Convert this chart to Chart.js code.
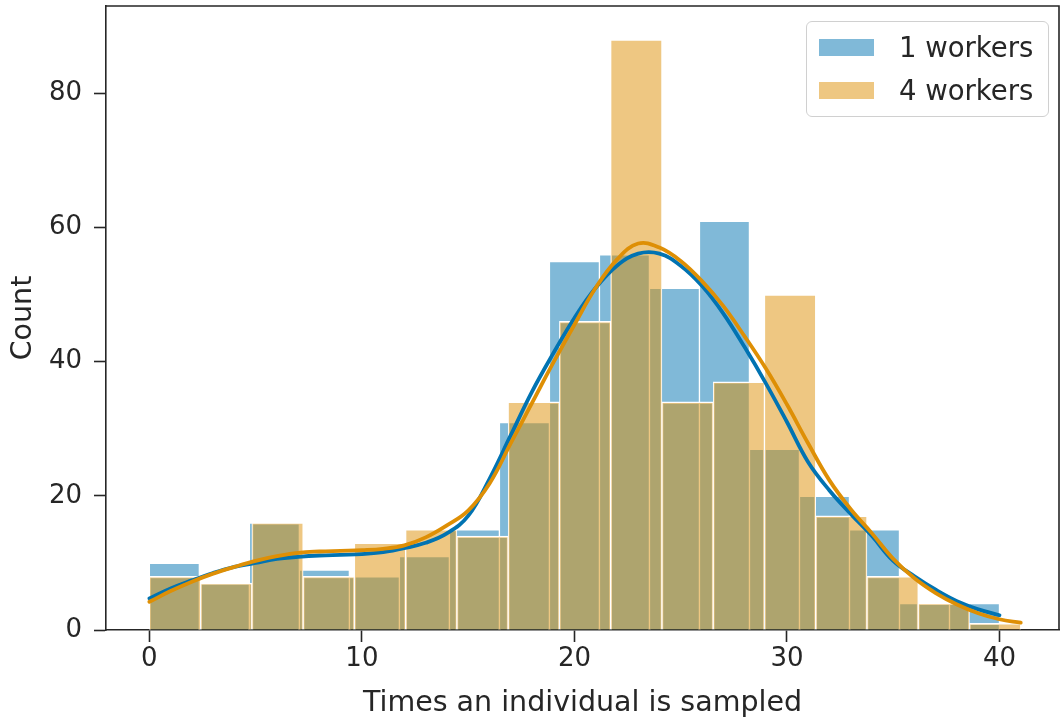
<!DOCTYPE html>
<html lang="en">
<head>
  <meta charset="UTF-8">
  <title>Times an individual is sampled</title>
  <script src="https://cdn.jsdelivr.net/npm/chart.js"></script>
  <style>
    html, body { margin: 0; padding: 0; background: #ffffff; overflow: hidden; }
    #wrap { position: relative; width: 1062px; height: 722px; }
    #legend {
      position: absolute; left: 806px; top: 21px; width: 243px; height: 96px;
      box-sizing: border-box; border: 1.5px solid #d0d0d0; border-radius: 6px;
      background: rgba(255, 255, 255, 0.8);
      font-family: "DejaVu Sans", sans-serif; font-size: 27.5px; color: #262626;
    }
    .row { position: absolute; left: 12px; height: 30px; display: flex; align-items: center; }
    .swatch { width: 55px; height: 17px; margin-right: 25px; }
  </style>
</head>
<body>
  <div id="wrap">
    <canvas id="hist"></canvas>
    <div id="legend"></div>
  </div>

  <script>
    // histogram bins: same count, different data range per run
    const binCount = 17;
    const oneWorkerRange = [0, 40];
    const fourWorkerRange = [0, 41];

    const oneWorkerCounts  = [10, 7, 16, 9, 8, 11, 15, 31, 55, 56, 51, 61, 27, 20, 15, 4, 4];
    const fourWorkerCounts = [8, 7, 16, 8, 13, 15, 14, 34, 46, 88, 34, 37, 50, 17, 8, 4, 1];

    // kde curves (scaled to counts)
    const oneKdeX = [0, 1, 2, 3, 4, 5, 6, 7, 8, 9, 10, 11, 12, 13, 14, 15, 16, 17, 18, 19, 20, 21, 22, 23, 24, 25, 26, 27, 28, 29, 30, 31, 32, 33, 34, 35, 36, 37, 38, 39, 40];
    const oneKdeY = [4.7, 6.2, 7.4, 8.5, 9.4, 10.0, 10.6, 10.9, 11.1, 11.2, 11.3, 11.6, 12.2, 13.0, 14.4, 17.0, 22.5, 29.0, 35.5, 41.2, 46.5, 51.0, 54.3, 56.1, 56.1, 54.3, 51.3, 47.2, 42.2, 36.8, 31.0, 25.0, 20.8, 17.3, 14.0, 10.3, 8.0, 6.0, 4.3, 3.1, 2.2];

    const fourKdeX = [0, 1, 2, 3, 4, 5, 6, 7, 8, 9, 10, 11, 12, 13, 14, 15, 16, 17, 18, 19, 20, 21, 22, 23, 24, 25, 26, 27, 28, 29, 30, 31, 32, 33, 34, 35, 36, 37, 38, 39, 40, 41];
    const fourKdeY = [4.2, 5.8, 7.2, 8.4, 9.4, 10.3, 11.0, 11.5, 11.7, 11.8, 11.9, 12.1, 12.6, 13.8, 15.6, 17.8, 21.8, 27.8, 33.8, 39.8, 45.5, 51.0, 55.2, 57.6, 57.0, 55.0, 52.0, 48.3, 43.8, 39.0, 33.6, 27.8, 22.3, 18.0, 14.4, 10.6, 7.7, 5.5, 3.8, 2.5, 1.6, 1.1];

    const seriesNames = ['1 workers', '4 workers'];
    const lineColors = ['#0173b2', '#de8f05'];
    const barColors = ['rgba(1, 115, 178, 0.5)', 'rgba(222, 143, 5, 0.5)'];

    const xTicks = [0, 10, 20, 30, 40];
    const yTicks = [0, 20, 40, 60, 80];

    const ink = '#262626';

    function binPoints(range, counts) {
      const w = (range[1] - range[0]) / binCount;
      return counts.map((c, i) => ({ x: range[0] + w * (i + 0.5), y: c }));
    }
    function curvePoints(xs, ys) {
      return xs.map((x, i) => ({ x: x, y: ys[i] }));
    }

    const xMin = -2.04, xMax = 42.8;
    const hiddenX = {
      type: 'linear', display: false, min: xMin, max: xMax, offset: false,
      grid: { offset: false },
      ticks: { stepSize: 10, includeBounds: false }
    };

    // top and right spines
    const frame = {
      id: 'frame',
      afterDraw(chart) {
        const { ctx, chartArea: a } = chart;
        ctx.save();
        ctx.strokeStyle = ink;
        ctx.lineWidth = 1.6;
        ctx.beginPath();
        ctx.moveTo(a.left, a.top);
        ctx.lineTo(a.right, a.top);
        ctx.lineTo(a.right, a.bottom);
        ctx.stroke();
        ctx.restore();
      }
    };

    const barBorder = { top: 1.5, left: 1, right: 1, bottom: 0 };

    const chart = new Chart(document.getElementById('hist'), {
      type: 'bar',
      data: {
        datasets: [
          {
            label: seriesNames[0], data: binPoints(oneWorkerRange, oneWorkerCounts), xAxisID: 'xOne',
            backgroundColor: barColors[0], borderColor: '#ffffff', borderWidth: barBorder, borderSkipped: false,
            barPercentage: 1, categoryPercentage: 1, grouped: false, order: 4
          },
          {
            label: seriesNames[1], data: binPoints(fourWorkerRange, fourWorkerCounts), xAxisID: 'xFour',
            backgroundColor: barColors[1], borderColor: '#ffffff', borderWidth: barBorder, borderSkipped: false,
            barPercentage: 1, categoryPercentage: 1, grouped: false, order: 3
          },
          {
            type: 'line', label: seriesNames[0] + ' kde', data: curvePoints(oneKdeX, oneKdeY), xAxisID: 'x',
            borderColor: lineColors[0], borderWidth: 3.8, pointRadius: 0, tension: 0.4,
            borderCapStyle: 'round', fill: false, order: 2
          },
          {
            type: 'line', label: seriesNames[1] + ' kde', data: curvePoints(fourKdeX, fourKdeY), xAxisID: 'x',
            borderColor: lineColors[1], borderWidth: 3.8, pointRadius: 0, tension: 0.4,
            borderCapStyle: 'round', fill: false, order: 1
          }
        ]
      },
      options: {
        responsive: true,
        maintainAspectRatio: false,
        animation: false,
        layout: { padding: { top: 6, right: 3, left: 0, bottom: 0 } },
        plugins: { legend: { display: false }, tooltip: { enabled: false } },
        scales: {
          x: {
            type: 'linear', min: xMin, max: xMax, offset: false,
            afterFit: s => { s.height = 92; s.paddingLeft = 0; s.paddingRight = 0; },
            afterBuildTicks: s => { s.ticks = xTicks.map(v => ({ value: v })); },
            border: { display: true, color: ink, width: 1.6 },
            grid: { display: true, drawOnChartArea: false, drawTicks: true, tickLength: 12, tickWidth: 1.6, tickColor: ink, offset: false },
            ticks: { color: ink, font: { family: 'DejaVu Sans', size: 26 }, padding: 2, maxRotation: 0 },
            title: { display: true, text: 'Times an individual is sampled', color: ink, font: { family: 'DejaVu Sans', size: 28.5 }, padding: { top: 0, bottom: 1 } }
          },
          xOne: hiddenX,
          xFour: Object.assign({}, hiddenX),
          y: {
            type: 'linear', min: 0, max: 93,
            afterFit: s => { s.width = 106; s.paddingTop = 0; s.paddingBottom = 0; },
            afterBuildTicks: s => { s.ticks = yTicks.map(v => ({ value: v })); },
            border: { display: true, color: ink, width: 1.6 },
            grid: { display: true, drawOnChartArea: false, drawTicks: true, tickLength: 12, tickWidth: 1.6, tickColor: ink },
            ticks: { color: ink, font: { family: 'DejaVu Sans', size: 26 }, padding: 12 },
            title: { display: true, text: 'Count', color: ink, font: { family: 'DejaVu Sans', size: 28.5 }, padding: { top: 6, bottom: 0 } }
          }
        }
      },
      plugins: [frame]
    });

    // legend box with histogram swatches
    const legend = document.getElementById('legend');
    seriesNames.forEach((name, i) => {
      const row = document.createElement('div');
      row.className = 'row';
      row.style.top = (i === 0 ? 10 : 53) + 'px';
      row.innerHTML = '<span class="swatch" style="background:' + barColors[i] + '"></span><span>' + name + '</span>';
      legend.appendChild(row);
    });
  </script>
</body>
</html>
